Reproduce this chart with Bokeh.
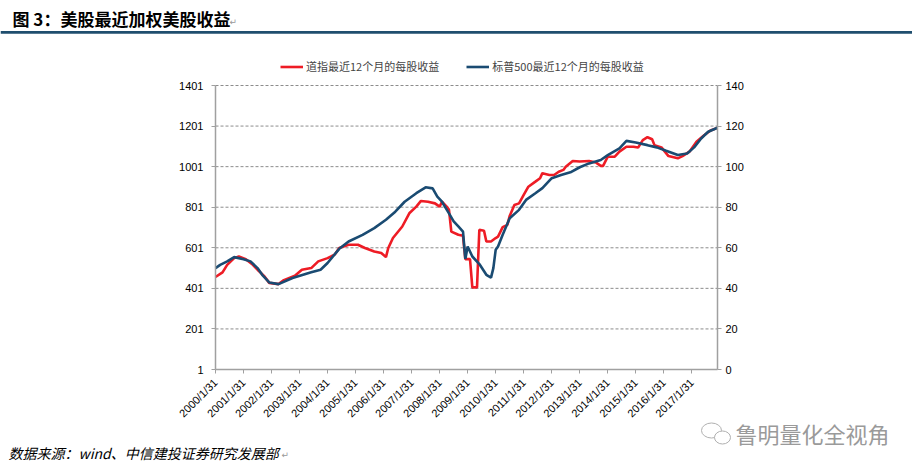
import math
from bokeh.plotting import figure
from bokeh.models import (Range1d, LinearAxis, FixedTicker, Label, Legend,
                          LegendItem, BoxAnnotation)
from bokeh.embed import file_html
from bokeh.resources import INLINE

# ---------------- data (month index from 2000-01, value) ----------------
tick_labels = ["2000/1/31", "2001/1/31", "2002/1/31", "2003/1/31", "2004/1/31",
               "2005/1/31", "2006/1/31", "2007/1/31", "2008/1/31", "2009/1/31",
               "2010/1/31", "2011/1/31", "2012/1/31", "2013/1/31", "2014/1/31",
               "2015/1/31", "2016/1/31", "2017/1/31"]
tick_months = [0, 12, 24, 36, 48, 60, 72, 84, 96, 108, 120, 132, 144, 156, 168,
               180, 192, 204]

dow_month = [0, 3, 5, 8, 10, 13, 16, 18, 21, 23, 27, 29, 34, 37, 41, 44, 48, 51,
             53, 57, 61, 64, 68, 71, 73, 74, 76, 80, 83, 86, 88, 91, 94, 96, 97,
             99, 100, 101, 104, 106, 107, 109, 110, 112, 113, 115, 116, 118, 120,
             121, 123, 125, 126, 128, 130, 132, 134, 137, 139, 140, 143, 145, 147,
             149, 150, 153, 156, 160, 163, 165, 166, 168, 171, 173, 176, 179, 181,
             183, 185, 187, 188, 191, 194, 198, 200, 203, 206, 209, 212, 215]
dow_eps = [457, 480, 517, 550, 558, 545, 517, 493, 460, 428, 422, 440, 463, 493,
           501, 534, 550, 567, 600, 616, 616, 600, 583, 575, 555, 600, 649, 706,
           771, 804, 832, 828, 820, 804, 828, 804, 788, 681, 665, 660, 545, 545,
           406, 406, 690, 685, 632, 632, 649, 656, 703, 714, 758, 812, 820, 862,
           902, 927, 944, 969, 960, 960, 976, 985, 1001, 1029, 1026, 1029, 1021,
           1005, 1005, 1050, 1050, 1075, 1099, 1099, 1095, 1132, 1146, 1136, 1107,
           1096, 1053, 1042, 1053, 1075, 1124, 1153, 1179, 1192]

spx_month = [0, 2, 5, 8, 12, 15, 18, 20, 23, 27, 33, 41, 45, 48, 53, 57, 63, 68,
             73, 77, 81, 86, 90, 93, 95, 97, 100, 102, 104, 106, 107, 108, 110,
             113, 116, 118, 119, 120, 121, 123, 126, 130, 133, 137, 140, 144, 148,
             152, 156, 160, 165, 168, 173, 176, 180, 185, 189, 193, 198, 202, 205,
             208, 211, 215]
spx_eps = [50.0, 51.6, 53.3, 55.4, 54.4, 53.3, 50.0, 46.7, 42.9, 42.1, 45.1, 47.9,
           49.2, 52.5, 59.5, 63.1, 66.4, 69.7, 73.8, 77.8, 82.7, 86.9, 89.8, 89.3,
           85.2, 82.7, 77.0, 73.0, 70.5, 68.0, 54.5, 60.6, 55.7, 52.0, 46.7, 45.3,
           50.0, 59.0, 60.6, 66.4, 74.6, 78.7, 83.6, 86.9, 89.4, 94.3, 95.9, 97.2,
           99.7, 101.6, 103.3, 105.7, 109.0, 112.7, 111.9, 110.6, 109.5, 107.8,
           105.7, 106.5, 109.5, 113.9, 117.2, 119.2]

left_ticks = [1, 201, 401, 601, 801, 1001, 1201, 1401]
right_ticks = [0, 20, 40, 60, 80, 100, 120, 140]

title_text = "图 3：美股最近加权美股收益"
dow_name = "道指最近12个月的每股收益"
spx_name = "标普500最近12个月的每股收益"
source_text = "数据来源：wind、中信建投证券研究发展部"
mark_text = "鲁明量化全视角"

# ---------------- layout ----------------
W, H = 912, 470
FL, FR = 215, 717     # plot area left / right (page px)
FT, FB = 85, 369      # plot area top / bottom (page px)
X0, X1 = 0, 215       # month range of the plot area
Y0, Y1 = 1, 1401      # left-axis range of the plot area
SX = (FR - FL) / (X1 - X0)
SY = (FB - FT) / (Y1 - Y0)


def dx(px):
    return X0 + (px - FL) / SX


def dy(py):
    return Y0 + (FB - py) / SY


RED = "#EE1C25"
BLUE = "#1A4B72"
RULE = "#1F4E6E"
GRAY = "#A0A0A0"
NUM_FONT = "Liberation Sans"
CJK_FONT = "Noto Sans CJK SC"

p = figure(width=W, height=H, output_backend="svg", toolbar_location=None,
           x_range=Range1d(dx(0), dx(W)), y_range=Range1d(dy(H), dy(0)),
           min_border=0, x_axis_location=None, y_axis_location=None)
p.min_border_left = p.min_border_right = p.min_border_top = p.min_border_bottom = 0
p.outline_line_color = None
p.background_fill_color = "white"
p.border_fill_color = "white"
p.xgrid.visible = False
p.ygrid.visible = False

# right axis range: 0..140 aligned with 1..1401
p.extra_y_ranges = {"right": Range1d((dy(H) - 1) / 10, (dy(0) - 1) / 10)}


def style_axis(ax):
    ax.axis_line_color = GRAY
    ax.axis_line_width = 1.5
    ax.major_tick_line_color = GRAY
    ax.major_tick_in = 0
    ax.major_tick_out = 4
    ax.minor_tick_line_color = None
    ax.major_label_text_font = NUM_FONT
    ax.major_label_text_font_size = "11px"
    ax.major_label_text_color = "#000000"


# dashed horizontal grid lines inside the plot area
grid_y = left_ticks[1:]
p.segment(x0=[X0] * len(grid_y), x1=[X1] * len(grid_y), y0=grid_y, y1=grid_y,
          line_color="#8C8C8C", line_dash="3 2", line_width=1)

xaxis = LinearAxis(ticker=FixedTicker(ticks=tick_months), fixed_location=Y0,
                   bounds=(X0, X1),
                   major_label_overrides={m: t for m, t in zip(tick_months, tick_labels)})
style_axis(xaxis)
xaxis.major_label_orientation = math.pi / 4
xaxis.major_label_standoff = 7
p.add_layout(xaxis, "below")

laxis = LinearAxis(ticker=FixedTicker(ticks=left_ticks), fixed_location=X0,
                   bounds=(Y0, Y1))
style_axis(laxis)
laxis.major_label_standoff = 8
p.add_layout(laxis, "left")

raxis = LinearAxis(y_range_name="right", ticker=FixedTicker(ticks=right_ticks),
                   fixed_location=X1, bounds=(0, 140))
style_axis(raxis)
raxis.major_label_standoff = 4
p.add_layout(raxis, "right")

r_dow = p.line(dow_month, dow_eps, line_color=RED, line_width=2.6)
r_spx = p.line(spx_month, spx_eps, line_color=BLUE, line_width=2.6,
               y_range_name="right")

# legend (location: left, bottom-edge in screen px from the canvas bottom)
legend = Legend(items=[LegendItem(label=dow_name, renderers=[r_dow]),
                       LegendItem(label=spx_name, renderers=[r_spx])],
                location=(280, H - 74), orientation="horizontal",
                padding=0, margin=0, spacing=27, border_line_color=None,
                background_fill_alpha=0, glyph_width=23, glyph_height=15,
                label_standoff=3, label_text_font=CJK_FONT,
                label_text_font_size="11px", label_height=15)
p.add_layout(legend, "center")

# title + rule
p.add_layout(Label(x=dx(12), y=dy(18), text=title_text, text_font=CJK_FONT,
                   text_font_size="17px", text_font_style="bold",
                   text_baseline="middle", text_color="#000000"))
p.add_layout(Label(x=dx(229), y=dy(21), text="↵", text_font="DejaVu Sans",
                   text_font_size="9px", text_baseline="middle",
                   text_color="#999999"))
p.add_layout(BoxAnnotation(left=dx(0), right=dx(W), top=dy(30.5), bottom=dy(33.2),
                           fill_color=RULE, fill_alpha=1, line_color=None))

# source + watermark
p.add_layout(Label(x=dx(8), y=dy(452), text=source_text, text_font=CJK_FONT,
                   text_font_size="14px", text_font_style="italic",
                   text_baseline="middle", text_color="#000000"))
p.add_layout(Label(x=dx(281), y=dy(454), text="↵", text_font="DejaVu Sans",
                   text_font_size="9px", text_baseline="middle",
                   text_color="#999999"))
p.ellipse(x=[dx(711), dx(722)], y=[dy(430), dy(437)], width=[20, 16],
          height=[15, 13], width_units="screen", height_units="screen",
          fill_color="white", line_color="#B0B0B0", line_width=1)
p.add_layout(Label(x=dx(735), y=dy(432), text=mark_text, text_font=CJK_FONT,
                   text_font_size="22px", text_baseline="middle",
                   text_color="#9A9A9A"))

open("out.html", "w").write(file_html(p, INLINE))
